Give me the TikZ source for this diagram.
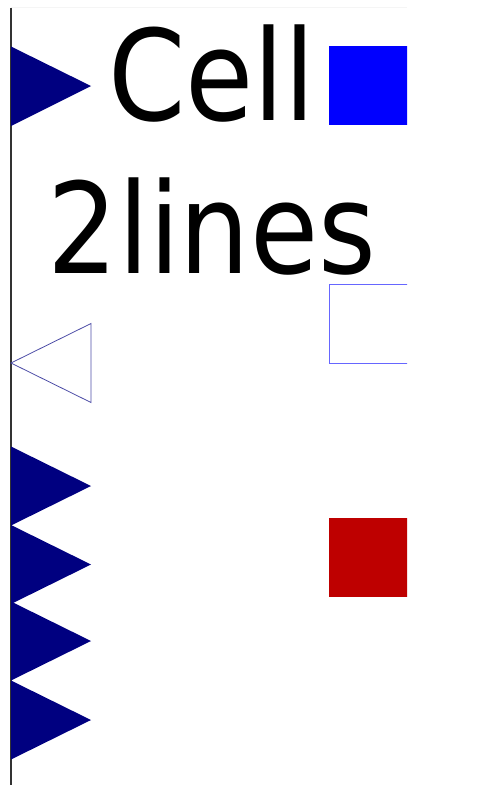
\documentclass[tikz,border=0pt]{standalone}
\usepackage{fontspec}
\setmainfont{DejaVu Sans}[FakeStretch=0.88]
\usetikzlibrary{positioning}

\begin{document}
\begin{tikzpicture}[
    x=1bp, y=-1bp,
]

\definecolor{portCol}{RGB}{0, 0, 128}
\definecolor{boxCol}{RGB}{0, 0, 255}
\definecolor{alarmCol}{RGB}{190, 0, 0}
\definecolor{rimCol}{RGB}{51, 51, 51}

\tikzset{
    in_port/.style = {fill=portCol, draw=none},
    out_port/.style = {draw=portCol!70!white, line width=0.8bp, fill=none},
    cell_box/.style = {rectangle, minimum width=80bp, minimum height=79bp, inner sep=0pt, outer sep=0pt},
    cell_text/.style = {align=center, inner sep=0pt, font=\fontsize{126bp}{153bp}\selectfont}
}

\useasboundingbox (0, 0) rectangle (477, 785);

% =========== FRAME ===========
\coordinate (rim_top) at (11, 8);
\coordinate (rim_bot) at (11, 785);
\coordinate (rim_right) at (407, 7.5);
\draw [black!4, line width=1bp] (11, 7.5) -- (rim_right);
\draw [rimCol, line width=1.2bp] (rim_top) -- (rim_bot);

% =========== LABEL ===========
\node[cell_text, anchor=base] (cell_lbl) at (212, 273) {Cell\\2lines};

% =========== PORTS ===========
\fill[in_port] (11, 46.5) -- (91, 86) -- (11, 126) -- cycle;
\draw[out_port] (91, 323.5) -- (11, 363) -- (91, 402.5) -- cycle;

\foreach \top in {446.5, 525, 601.5, 680.5} {
    \fill[in_port] (11, \top) -- (91, \top+39.5) -- (11, \top+79) -- cycle;
}

% =========== BOXES ===========
\begin{scope}
\clip (0, 0) rectangle (407, 785);
\node[cell_box, fill=boxCol, anchor=north west] (box_on) at (329, 46) {};
\node[cell_box, draw=boxCol!60!white, line width=1bp, anchor=north west] (box_off) at (329, 284) {};
\node[cell_box, fill=alarmCol, anchor=north west] (box_alarm) at (329, 518) {};
\end{scope}

\end{tikzpicture}
\end{document}
